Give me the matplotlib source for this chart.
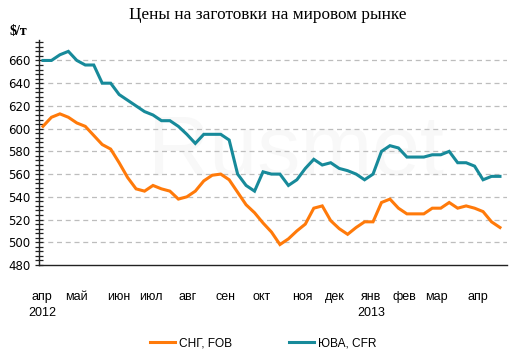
import matplotlib
matplotlib.use("Agg")
import matplotlib.pyplot as plt
from matplotlib.ticker import MultipleLocator
from matplotlib.lines import Line2D

title = "Цены на заготовки на мировом рынке"
unit = "$/т"
cis_fob = [602, 610, 613, 610, 605, 602, 594, 586, 582, 570,
           557, 547, 545, 550, 547, 545, 538, 540, 545, 554,
           559, 560, 555, 544, 533, 526, 517, 509, 498, 503,
           510, 516, 530, 532, 519, 512, 507, 513, 518, 518,
           535, 538, 530, 525, 525, 525, 530, 530, 535, 530,
           532, 530, 527, 518, 513]
sea_cfr = [660, 660, 665, 668, 660, 656, 656, 640, 640, 630,
           625, 620, 615, 612, 607, 607, 602, 595, 587, 595,
           595, 595, 590, 560, 550, 545, 562, 560, 560, 550,
           555, 565, 573, 568, 570, 565, 563, 560, 555, 560,
           580, 585, 583, 575, 575, 575, 577, 577, 580, 570,
           570, 567, 555, 558, 558]
series_names = ["СНГ, FOB", "ЮВА, CFR"]
month_labels = ["апр\n2012", "май", "июн", "июл", "авг", "сен", "окт",
                "ноя", "дек", "янв\n2013", "фев", "мар", "апр"]
month_pos = [-0.1, 3.9, 8.9, 12.8, 17.1, 21.6, 25.8, 30.6, 34.5, 38.8, 42.7, 46.5, 51.4]
y_ticks = [480, 500, 520, 540, 560, 580, 600, 620, 640, 660]

orange = "#FF7A0A"
teal = "#178A9A"

fig = plt.figure(figsize=(5.27, 3.62), dpi=100)
ax = fig.add_axes([39/527, 1-265/362, (507-39)/527, (265-40)/362])

x = list(range(len(cis_fob)))
ax.text(0.55, 0.5, "Rusmet", transform=ax.transAxes, fontsize=62,
        color="#f8f8f8", ha="center", va="center", zorder=0,
        family="Liberation Sans")
ax.plot(x, cis_fob, color=orange, lw=2.2, zorder=3, solid_joinstyle="miter")
ax.plot(x, sea_cfr, color=teal, lw=2.2, zorder=3, solid_joinstyle="miter")

ax.set_xlim(-0.47, 54.83)
ax.set_ylim(480, 678)
ax.set_yticks(y_ticks)
ax.yaxis.set_minor_locator(MultipleLocator(4))
for v in y_ticks[1:]:
    ax.axhline(v, color="#bdbdbd", lw=0.9, ls=(0, (4, 3)), zorder=1)

for s in ["top", "right"]:
    ax.spines[s].set_visible(False)
ax.spines["left"].set_color("#222222")
ax.spines["bottom"].set_color("#222222")
ax.spines["left"].set_linewidth(1.0)
ax.spines["bottom"].set_linewidth(1.0)

ax.tick_params(axis="y", which="major", direction="inout", length=6, width=0.9,
               labelsize=8.5, colors="#222222", pad=3)
ax.tick_params(axis="y", which="minor", direction="inout", length=6, width=0.9,
               colors="#222222")
for lab in ax.get_yticklabels():
    lab.set_family("DejaVu Sans")
    lab.set_color("black")

ax.set_xticks(month_pos)
ax.set_xticklabels(month_labels, fontsize=9, family="Liberation Sans",
                   linespacing=1.4, va="top")
ax.tick_params(axis="x", length=0, pad=19)

fig.text(268/527, 1-15/362, title, ha="center", va="center", fontsize=12.4,
         family="Liberation Serif")
fig.text(10/527, 1-31/362, unit, ha="left", va="center", fontsize=10,
         family="Liberation Serif", weight="bold")

handles = [Line2D([], [], color=orange, lw=2.2), Line2D([], [], color=teal, lw=2.2)]
fig.legend(handles, series_names, loc="center", bbox_to_anchor=(263/527, 1-343/362),
           ncol=2, frameon=False, handlelength=2.1, handletextpad=0.3,
           columnspacing=4.8, prop={"family": "Liberation Sans", "size": 8.6})

fig.savefig("out.png", dpi=100)
